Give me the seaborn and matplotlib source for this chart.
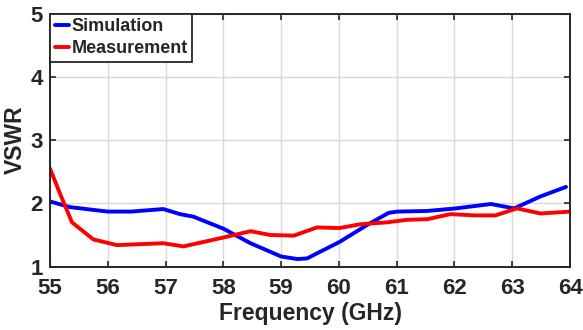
import matplotlib
matplotlib.use("Agg")
import matplotlib.pyplot as plt
import seaborn as sns
import pandas as pd

sim_freq = [55.0, 55.35, 56.0, 56.4, 56.96, 57.25, 57.48, 58.0, 58.47, 59.0, 59.28, 59.45,
            59.62, 60.01, 60.49, 60.86, 61.01, 61.53, 62.02, 62.63, 63.03, 63.49, 63.93]
sim_vswr = [2.03, 1.94, 1.87, 1.87, 1.91, 1.83, 1.79, 1.60, 1.37, 1.16, 1.12, 1.13,
            1.21, 1.39, 1.66, 1.85, 1.87, 1.88, 1.92, 1.99, 1.92, 2.11, 2.26]
meas_freq = [55.0, 55.17, 55.38, 55.75, 56.16, 56.96, 57.31, 58.0, 58.47, 58.81, 59.22,
             59.62, 60.01, 60.37, 60.83, 61.18, 61.53, 61.93, 62.34, 62.71, 63.08, 63.49, 64.0]
meas_vswr = [2.55, 2.16, 1.70, 1.43, 1.34, 1.37, 1.32, 1.46, 1.56, 1.50, 1.49,
             1.62, 1.61, 1.67, 1.70, 1.74, 1.75, 1.83, 1.81, 1.81, 1.92, 1.84, 1.87]
x_ticks = [55, 56, 57, 58, 59, 60, 61, 62, 63, 64]
y_ticks = [1, 2, 3, 4, 5]

df = pd.concat([
    pd.DataFrame({"Frequency": sim_freq, "VSWR": sim_vswr, "Series": "Simulation"}),
    pd.DataFrame({"Frequency": meas_freq, "VSWR": meas_vswr, "Series": "Measurement"}),
])

sns.set_style("ticks")
plt.rcParams['font.family'] = ['Liberation Sans', 'DejaVu Sans']
plt.rcParams['font.weight'] = 'bold'

fig = plt.figure(figsize=(5.83, 3.30), dpi=100)
ax = fig.add_axes([0.0858, 0.192, 0.892, 0.767])

sns.lineplot(data=df, x="Frequency", y="VSWR", hue="Series", sort=False,
             palette={"Simulation": "#0000FF", "Measurement": "#FF0000"},
             linewidth=2.8, ax=ax, estimator=None)

ax.set_xlim(55, 64)
ax.set_ylim(1, 5)
ax.set_xticks(x_ticks)
ax.set_yticks(y_ticks)
ax.grid(True, color="#d9d9d9", linewidth=1.0)
ax.set_axisbelow(True)
for s in ax.spines.values():
    s.set_color("#262626")
    s.set_linewidth(1.4)
    s.set_visible(True)
ax.tick_params(direction="in", top=True, right=True, length=4, width=1.2,
               color="#262626", labelsize=16, pad=3)
ax.tick_params(axis="x", pad=8)
ax.tick_params(axis="y", pad=5)
for lab in ax.get_xticklabels() + ax.get_yticklabels():
    lab.set_fontweight("bold")
ax.set_xlabel("Frequency (GHz)", fontsize=16.5, fontweight="bold", labelpad=2)
ax.set_ylabel("VSWR", fontsize=16.5, fontweight="bold", labelpad=3)

leg = ax.legend(loc="upper left", handlelength=0.8, handletextpad=0.15,
                borderpad=0.25, labelspacing=0.3, borderaxespad=0.0, frameon=True,
                fancybox=False, title=None, prop={"weight": "bold", "size": 13})
leg.get_frame().set_edgecolor("#262626")
leg.get_frame().set_linewidth(1.3)
leg.get_frame().set_alpha(1)

fig.savefig("out.png", dpi=100)
